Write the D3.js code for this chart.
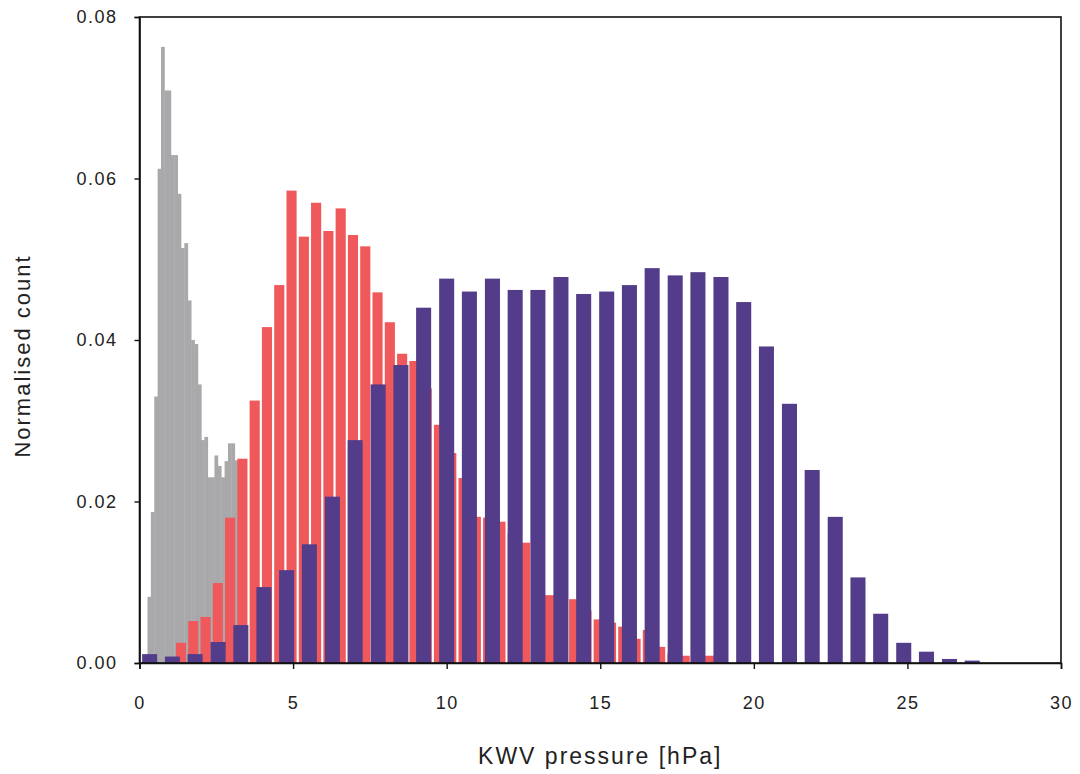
<!DOCTYPE html>
<html>
<head>
<meta charset="utf-8">
<script src="https://cdn.jsdelivr.net/npm/d3@7"></script>
<style>
  body { margin: 0; background: #fff; }
  svg { display: block; font-family: "Liberation Sans", Arial, sans-serif; }
</style>
</head>
<body>
<div id="chart"></div>
<script>
// grey: fine histogram (bin left edges in hPa, normalised counts)
const greyEdges = [0.26, 0.37, 0.48, 0.59, 0.70, 0.81, 0.91, 1.02, 1.13, 1.24, 1.35, 1.46, 1.57, 1.68,
    1.79, 1.90, 2.00, 2.11, 2.22, 2.33, 2.44, 2.55, 2.66, 2.77, 2.88, 2.99, 3.09, 3.20];
const greyValues = [0.0082, 0.0187, 0.033, 0.0612, 0.0763, 0.0709, 0.0709, 0.0629, 0.0629, 0.0581, 0.0514, 0.052,
    0.0449, 0.040, 0.0395, 0.0345, 0.0276, 0.028, 0.023, 0.023, 0.0257, 0.0244, 0.023, 0.025, 0.0272, 0.0272,
    0.0251, 0.022];
const greyBinWidth = 0.11;

// red: bar centres (hPa) and counts
const redCentres = [1.35, 1.75, 2.15, 2.55, 2.95, 3.35, 3.75, 4.15, 4.55, 4.95, 5.35, 5.75, 6.15, 6.55, 6.95,
    7.35, 7.75, 8.15, 8.55, 8.95, 9.35, 9.75, 10.15, 10.55, 10.95, 11.35, 11.75, 12.15, 12.55, 12.95, 13.35,
    13.75, 14.15, 14.55, 14.95, 15.35, 15.75, 16.15, 16.55, 16.95, 17.35, 17.75, 18.15, 18.55];
const redValues = [0.0025, 0.0052, 0.0057, 0.0099, 0.018, 0.0253, 0.0325, 0.0416, 0.0468, 0.0585, 0.0528, 0.057,
    0.0535, 0.0563, 0.053, 0.0516, 0.0459, 0.0422, 0.0383, 0.0374, 0.034, 0.0295, 0.026, 0.0229, 0.0181, 0.018,
    0.0175, 0.016, 0.0149, 0.011, 0.0084, 0.008, 0.0079, 0.0065, 0.0054, 0.005, 0.0045, 0.003, 0.0041, 0.002,
    0.0012, 0.0009, 0.0008, 0.0009];

// purple: bar centres (hPa) and counts
const purpleCentres = [0.33, 1.07, 1.81, 2.56, 3.30, 4.05, 4.79, 5.53, 6.28, 7.02, 7.77, 8.51, 9.25, 10.00,
    10.74, 11.49, 12.23, 12.97, 13.72, 14.46, 15.21, 15.95, 16.69, 17.44, 18.18, 18.93, 19.67, 20.41, 21.16,
    21.90, 22.65, 23.39, 24.13, 24.88, 25.62, 26.37, 27.11];
const purpleValues = [0.0011, 0.0008, 0.0011, 0.0026, 0.0047, 0.0094, 0.0115, 0.0147, 0.0206, 0.0276, 0.0345,
    0.0369, 0.044, 0.0476, 0.046, 0.0476, 0.0462, 0.0462, 0.0478, 0.0457, 0.046, 0.0468, 0.0489, 0.048, 0.0484,
    0.0478, 0.0447, 0.0392, 0.0321, 0.0239, 0.0181, 0.0106, 0.0061, 0.0025, 0.0014, 0.0005, 0.0003];

const xTicks = [0, 5, 10, 15, 20, 25, 30];
const yTicks = [0, 0.02, 0.04, 0.06, 0.08];

const width = 1080, height = 774;
const margin = { top: 17, right: 19, bottom: 111, left: 139.5 };

const svg = d3.select("#chart").append("svg")
    .attr("width", width)
    .attr("height", height);

const x = d3.scaleLinear().domain([0, 30]).range([margin.left, width - margin.right]);
const y = d3.scaleLinear().domain([0, 0.08]).range([height - margin.bottom, margin.top]);

// grey histogram (drawn first, red and purple sit on top)
svg.append("g")
    .selectAll("rect")
    .data(greyEdges.map((e, i) => ({ x0: e, v: greyValues[i] })))
    .join("rect")
    .attr("x", d => x(d.x0))
    .attr("width", x(greyBinWidth) - x(0) + 0.4)
    .attr("y", d => y(d.v))
    .attr("height", d => y(0) - y(d.v))
    .attr("fill", "#a9a9ab");

// red bars
const redW = 0.33;
svg.append("g")
    .selectAll("rect")
    .data(redCentres.map((c, i) => ({ c, v: redValues[i] })))
    .join("rect")
    .attr("x", d => x(d.c - redW / 2))
    .attr("width", x(redW) - x(0))
    .attr("y", d => y(d.v))
    .attr("height", d => y(0) - y(d.v))
    .attr("fill", "#f0595b");

// purple bars
const purpleW = 0.49;
svg.append("g")
    .selectAll("rect")
    .data(purpleCentres.map((c, i) => ({ c, v: purpleValues[i] })))
    .join("rect")
    .attr("x", d => x(d.c - purpleW / 2))
    .attr("width", x(purpleW) - x(0))
    .attr("y", d => y(d.v))
    .attr("height", d => y(0) - y(d.v))
    .attr("fill", "#533d8a");

// frame
svg.append("rect")
    .attr("x", x(0))
    .attr("y", y(0.08))
    .attr("width", x(30) - x(0))
    .attr("height", y(0) - y(0.08))
    .attr("fill", "none")
    .attr("stroke", "#111")
    .attr("stroke-width", 1.6);

// axes
const xAxis = svg.append("g")
    .attr("transform", `translate(0,${y(0)})`)
    .call(d3.axisBottom(x).tickValues(xTicks).tickFormat(d3.format("d")).tickSize(6).tickPadding(27));
const yAxis = svg.append("g")
    .attr("transform", `translate(${x(0)},0)`)
    .call(d3.axisLeft(y).tickValues(yTicks).tickFormat(d3.format(".2f")).tickSize(5).tickPadding(17));

[xAxis, yAxis].forEach(g => {
    g.select(".domain").attr("stroke", "#111").attr("stroke-width", 1.6);
    g.selectAll(".tick line").attr("stroke", "#111").attr("stroke-width", 1.4);
    g.selectAll(".tick text")
        .attr("fill", "#222")
        .attr("font-size", "18px")
        .attr("letter-spacing", "1.5px")
        .style("font-family", "'Liberation Sans', Arial, sans-serif");
});

// axis titles
svg.append("text")
    .attr("x", (x(0) + x(30)) / 2)
    .attr("y", 764)
    .attr("text-anchor", "middle")
    .attr("font-size", "23px")
    .attr("letter-spacing", "2px")
    .attr("fill", "#222")
    .text("KWV pressure [hPa]");

svg.append("text")
    .attr("transform", "translate(30,356) rotate(-90)")
    .attr("text-anchor", "middle")
    .attr("font-size", "22px")
    .attr("letter-spacing", "2px")
    .attr("fill", "#222")
    .text("Normalised count");
</script>
</body>
</html>
